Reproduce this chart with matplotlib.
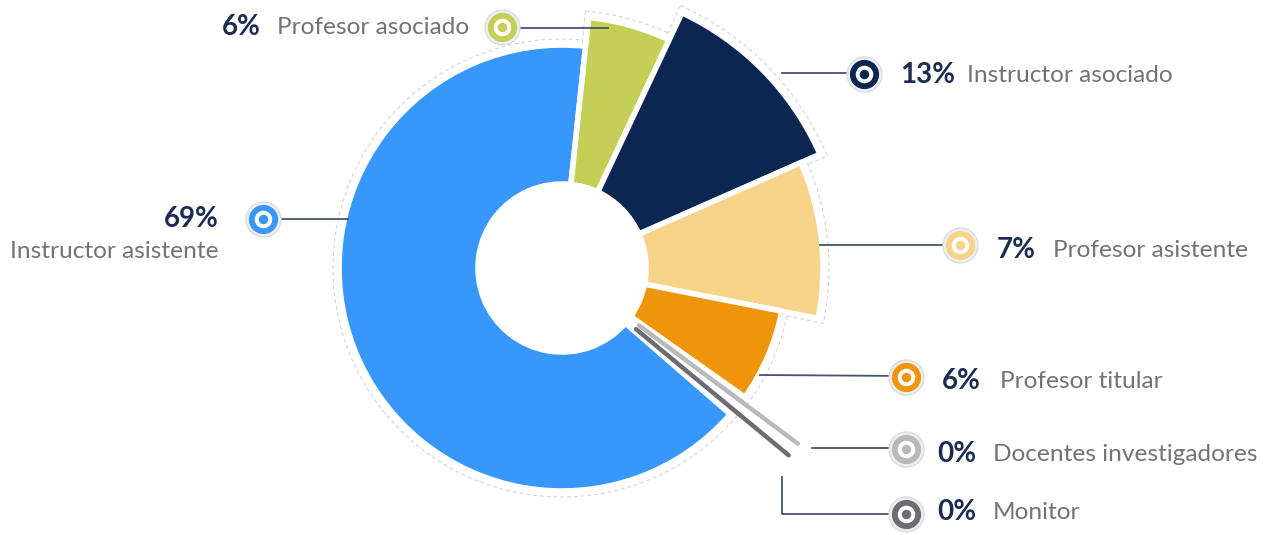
import matplotlib.pyplot as plt
from matplotlib.patches import Wedge
import numpy as np

categories = ['Instructor asistente', 'Profesor asociado', 'Instructor asociado',
              'Profesor asistente', 'Profesor titular', 'Docentes investigadores', 'Monitor']
pct_labels = ['69%', '6%', '13%', '7%', '6%', '0%', '0%']
# share of the circle each slice takes in the picture (percent)
shares = [65.3, 5.3, 11.4, 9.7, 6.7, 0.8, 0.8]

colors = ['#3797fb', '#c5cf55', '#0c2652', '#f7d389', '#f0950a', '#b9b9b9', '#6c6d73']
radii = [223, 252, 282, 261, 224, 298, 298]
thin = [False, False, False, False, False, True, True]

# label layout: marker, leader line points, text x / baseline, align
layout = [
    dict(m=(263, 219), line=[(280, 219), (348, 219)], px=219, py=227, nx=219, ny=258, ha='right'),
    dict(m=(502, 27), line=[(502, 28), (608, 28)], px=222, py=35, nx=277, ny=34, ha='left'),
    dict(m=(864, 74), line=[(782, 73), (864, 73)], px=900, py=83, nx=967, ny=82, ha='left'),
    dict(m=(960, 245), line=[(820, 245), (960, 245)], px=997, py=258, nx=1053, ny=257, ha='left'),
    dict(m=(906, 377), line=[(760, 375), (906, 376)], px=942, py=389, nx=1000, ny=388, ha='left'),
    dict(m=(906, 449), line=[(812, 448), (906, 448)], px=937, py=462, nx=993, ny=461, ha='left'),
    dict(m=(906, 514), line=[(782, 477), (782, 514), (906, 514)], px=937, py=520, nx=993, ny=519, ha='left'),
]

cx, cy = 562, 268
r_in = 84
start = -41.0  # degrees (counter-clockwise from 3 o'clock); slices run clockwise

fig = plt.figure(figsize=(12.76, 5.35), dpi=100)
ax = fig.add_axes([0, 0, 1, 1])
ax.set_xlim(0, 1276)
ax.set_ylim(535, 0)
ax.axis('off')

a = start
for share, col, r, t in zip(shares, colors, radii, thin):
    a2 = a - share * 3.6
    if t:
        mid = np.radians((a + a2) / 2)
        rr = np.array([96, r - 4])
        ax.plot(cx + rr * np.cos(mid), cy - rr * np.sin(mid), color=col, lw=3.2,
                solid_capstyle='round', zorder=3)
    else:
        # faint dashed halo around each slice
        ax.add_patch(Wedge((cx, cy), r + 6, -a - 0.9, -a2 + 0.9, width=r + 6 - r_in - 12,
                           facecolor='white', edgecolor='#cfcfcf', lw=0.7,
                           ls=(0, (4, 3)), zorder=1))
        ax.add_patch(Wedge((cx, cy), r, -a, -a2, width=r - r_in,
                           facecolor=col, edgecolor='white', lw=4, zorder=2))
    a = a2

line_col = '#46536e'
pct_col = '#1b2c52'
name_col = '#737373'

for cat, pct, col, lay in zip(categories, pct_labels, colors, layout):
    xs = [p[0] for p in lay['line']]
    ys = [p[1] for p in lay['line']]
    ax.plot(xs, ys, color=line_col, lw=1.3, zorder=4)
    mx, my = lay['m']
    ax.scatter([mx], [my], s=640, color='#eceef2', edgecolor='#d6d8de', lw=0.8, zorder=5)
    ax.scatter([mx], [my], s=400, color=col, zorder=6)
    ax.scatter([mx], [my], s=135, color='white', zorder=7)
    ax.scatter([mx], [my], s=34, color=col, zorder=8)
    ax.text(lay['px'], lay['py'], pct, ha=lay['ha'], va='baseline', fontsize=20,
            fontweight='bold', color=pct_col, family='Lato')
    ax.text(lay['nx'], lay['ny'], cat, ha=lay['ha'], va='baseline', fontsize=17.6,
            color=name_col, family='Lato')

fig.savefig('out.png', dpi=100, facecolor='white')
